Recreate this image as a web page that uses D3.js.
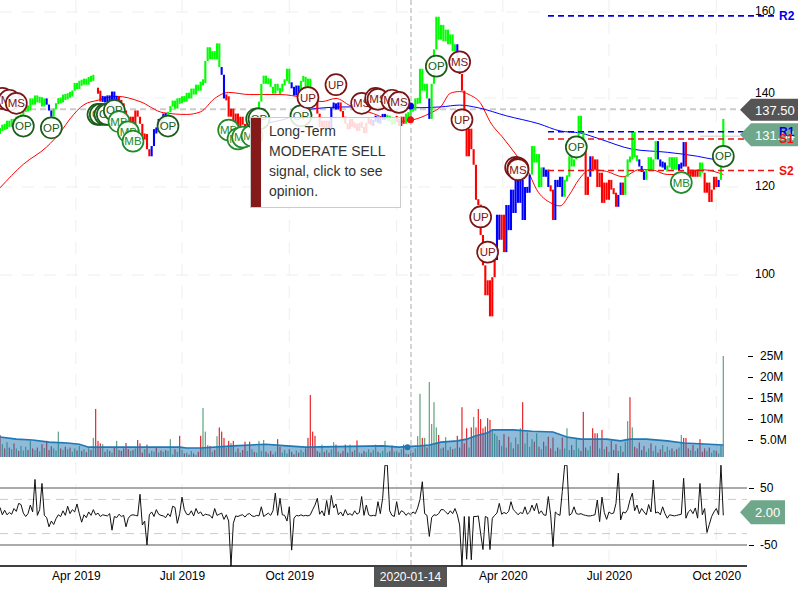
<!DOCTYPE html>
<html><head><meta charset="utf-8">
<script src="https://d3js.org/d3.v7.min.js"></script>
<style>html,body{margin:0;padding:0;background:#fff}svg{display:block}text{font-family:"Liberation Sans",Arial,sans-serif}</style>
</head><body><svg id="c" width="800" height="600"></svg>
<script>
const closePrice=[
132.6,134,133,134.9,133.5,135.3,134,135.8,134.4,136.3,
137,138.1,137.2,139.9,138.5,140.6,139,140.2,138.1,139.9,
138.5,137.2,135.8,137.6,138.7,139.9,139,140.8,139.7,141.1,
140.4,141.7,143.5,142.1,144,143.1,144.5,143.1,144.9,144,
145.4,null,141.7,139.2,140.4,139,140.6,139.2,141.5,139.2,
140.4,139,138.8,137.2,135.8,134.2,135.8,133,137.2,135.8,
134.2,130.8,131.9,128.5,126.9,129.2,133,132.4,135.3,134.2,
136.5,135.3,136.9,138.1,139.4,137.6,139.9,138.8,140.4,139.2,
141.2,139.9,142.2,140.8,143.1,141.7,143.8,143.5,148.6,151.8,
149,150.9,149,152.7,147.2,145.4,139.9,140.4,135.8,137.6,
133.5,136.5,133,135.8,134,133,134.9,134,136.5,135.3,
137.6,139.2,143.3,145.2,143.3,144.5,142.6,141,143.3,141.7,
141.5,143.3,144,146.8,143.3,142.6,140.6,142.9,141,144,
144.9,142.6,144.5,142.2,141,139.9,136.5,133.5,134.9,133,
134.9,133,137.8,138.8,137.4,139,137,135.8,134.2,133,
135.3,133.5,134.2,132.6,134.4,133.5,132.1,134.4,135.3,133.9,
134.9,135.8,134.4,135.3,136.2,135.3,135.8,134.9,134.2,135.3,
135.3,133.7,135.8,134.2,136.5,135.8,138.1,137.2,139.9,138.8,
146.8,141.7,143.3,139.9,135.3,143.3,151.3,158.9,153.6,157,
153.2,155.9,152.5,154.8,150.9,152.5,149,145.6,141.7,133,
126.9,133.1,128.5,125,117.1,116,109.1,102.2,95.4,98.8,
90.6,99.5,103.4,113.7,108,113.7,105.2,115.9,110.2,119.4,
114.1,121.6,116.4,121.6,112.5,120,118.7,122.8,129.2,125.5,
127.4,120,124.4,122.3,123.9,120,119.4,112.5,121.6,120,
122.3,117.8,121.6,122.3,126.9,124.6,126.2,128.5,136,132.4,
128.5,118.2,122.3,126.9,124,126.2,120,123.2,116.4,121,
117.1,121.6,119.4,118.7,115.5,118.2,121,118.2,122.3,126.2,
126.2,132.4,126.7,126.2,124.6,123.5,121.6,123.9,126.7,123.9,
126.2,130.3,126.2,124.6,125.5,123.9,124.4,126.7,123.9,126.7,
123.9,125,124.6,130.1,124.6,122.3,123.9,122.3,123.9,122.3,
125.5,123.2,118.7,121,116.6,119.4,122.3,120,121.6,129.2,
135.3];
const runEnd=[19,22,40,43,50,64,71,94,96,109,124,128,133,141,145,159,165,169,173,183,184,195,197,212,214,216,227,232,235,237,241,250,252,253,264,266,267,273,276,281,285,290,293,299,301,307,308,310];
const runCol="g b g r b r b g b r g b g r b r b g r g b g b r b r b g b r b g r b r b r g b g b g b r g r b g".split(" ");
const volume=[
6.2,4.0,3.0,4.5,3.2,2.8,4.2,3.0,2.4,3.6,
2.5,3.4,2.6,4.8,3.0,2.6,3.2,2.3,4.0,3.1,
4.8,2.6,3.5,3.0,2.5,7.0,3.0,2.6,3.4,2.8,
3.2,2.2,3.0,2.5,3.6,2.4,2.8,2.1,3.0,2.6,
5.5,12.4,4.8,4.2,4.0,2.2,2.8,2.4,2.0,3.2,
4.8,2.6,2.4,3.0,4.3,2.8,2.4,2.6,3.0,5.0,
4.2,2.0,2.8,3.9,1.8,2.4,2.2,3.2,2.0,2.5,
2.2,2.6,2.4,5.2,1.6,2.8,2.2,6.0,2.6,1.8,
2.0,1.5,2.4,1.8,1.4,2.2,6.0,12.6,7.0,3.8,
3.6,2.2,2.6,5.9,8.0,7.0,5.5,3.2,4.8,4.3,
4.8,2.2,3.0,2.0,2.6,4.6,2.4,4.6,2.8,2.2,
2.0,4.8,2.4,5.0,2.2,1.8,2.4,1.6,2.2,5.2,
3.4,2.0,2.6,1.8,2.8,2.2,1.6,2.5,2.0,2.7,
2.1,3.0,5.5,15.7,7.0,6.0,2.4,2.0,3.9,2.2,
2.6,2.0,2.8,4.5,3.9,2.2,1.8,2.4,3.9,2.0,
3.9,2.2,2.6,4.9,2.0,1.8,2.4,2.1,2.8,2.0,
2.6,3.9,2.2,1.9,2.4,4.8,2.0,2.3,3.7,2.2,
2.4,2.0,2.8,3.9,1.8,1.6,2.6,2.0,3.0,5.9,
16,5.5,5.5,3.2,18.8,8.8,14,8,6.2,3.0,
3.2,5.7,2.6,3.4,2.8,3.0,6.0,3.2,12.8,4.2,
7.8,3.2,8.0,10.5,8,12.4,10,7.8,8.2,10.2,
9.8,7.2,6.5,6.0,5.0,3.6,6.4,3.2,5.8,4.4,
3.0,5.6,4.0,7.8,14,4.2,6.8,3.4,5.2,4.6,
6.6,3.4,2.8,4.6,3.6,5.8,3.0,5.6,2.4,3.2,
2.8,5.6,3.0,7.8,2.6,3.8,2.6,5.4,3.0,2.4,
11.7,3.2,2.6,3.6,7.8,6.6,6.6,3.0,7.4,2.8,
3.4,2.2,4.8,2.6,4.0,2.4,3.6,2.2,4.6,9.5,
15.2,8.0,3.4,3.0,4.4,2.6,3.6,2.2,3.0,4.2,
2.4,3.6,2.0,2.8,3.8,2.2,3.4,2.6,3.0,2.4,
2.8,3.2,6.2,5.5,5.5,3.0,2.6,3.8,2.4,3.0,
5.2,2.2,3.0,2.4,3.2,2.0,2.6,2.4,1.8,3.6,
25];
const volGreen=[25,40,73,87,88,93,111,113,143,161,165,179,180,184,185,186,187,203,223,226,243,269,271,292,310];
const volRed=[0,41,42,86,94,95,96,119,132,133,134,135,196,198,200,202,205,206,207,208,209,210,224,236,241,250,254,255,256,258,270,293,294,300];
const avgIdx=[0,7,14,21,29,34,38,43,77,80,86,100,114,123,131,164,171,180,184,189,196,200,204,209,211,220,228,237,243,249,260,266,270,277,286,293,304,310];
const avgVol=[5.7,5.2,5.0,4.5,4.3,4.0,3.3,3.3,3.3,3.1,3.1,3.6,4.0,3.6,3.3,3.6,3.3,3.6,3.8,4.5,4.8,5.2,6.0,6.7,7.4,7.4,7.1,6.9,5.7,5.2,5.2,4.8,5.2,5.2,4.8,4.3,4.0,3.8];
const cci=[
16,3,11,3,7,4,14,9,23,21,
6,0,5,20,8,65,2,12,58,2,
-2,-18,-8,-14,-4,3,0,10,2,18,
5,12,8,22,5,-10,3,-2,8,2,
12,3,6,0,3,2,1,5,-24,0,
-2,4,0,2,-18,-3,2,3,2,1,
39,-15,-8,-50,3,8,0,12,4,2,
1,-2,5,0,18,16,-12,5,34,12,
4,3,10,1,14,5,8,1,4,3,
2,-3,14,2,4,6,-5,3,-8,-87,
-12,1,0,2,3,-1,4,5,1,0,
2,1,17,0,3,6,2,10,41,2,
32,3,2,-8,17,-59,-3,2,1,3,
1,2,1,3,12,20,32,4,10,1,
28,3,37,15,22,3,8,1,12,3,
5,2,10,4,7,35,2,20,3,1,
2,1,26,5,32,90,90,10,2,0,
26,3,10,8,2,6,3,8,5,15,
30,61,5,2,-35,-2,3,2,5,12,
12,8,4,10,5,14,3,-15,-87,0,
-75,0,-76,0,0,1,-30,-58,0,-2,
-58,-3,2,6,23,4,7,5,9,26,
12,8,3,7,5,17,4,8,20,10,
23,5,10,3,2,35,3,-53,8,4,
2,44,90,90,2,5,17,5,4,5,
3,2,1,1,2,3,29,-9,34,7,
-5,8,5,6,23,76,-6,8,6,12,
29,41,10,20,5,14,8,3,21,8,
64,6,8,3,17,5,-3,3,2,1,
2,3,4,67,-3,8,12,5,15,-3,
58,3,14,-28,-14,0,8,14,3,90,
2];
const redIdx=[0,10,20,26,30,36,42,50,60,70,80,86,92,98,107,120,130,138,144,150,160,170,177,184,189,193,197,201,206,210,216,222,226,230,236,240,244,248,253,260,267,274,279,286,293,300,306,310];
const redMA=[119.8,125.1,129,132.4,135.3,138.5,139.5,140.4,139.2,136.7,136.3,136.9,139.9,141.3,140.8,140.8,140.1,139.2,139.9,138.3,136.5,134.7,135.1,136.5,138.1,141.1,141.5,140.8,138.8,134.7,130.8,126.7,123.9,119.4,116.4,115.7,118.2,121.6,123.9,123.5,122.3,123.9,123.9,122.8,122.8,123.9,123.5,122.8];
const blueIdx=[107,115,125,130,135,142,150,165,177,189,197,205,217,231,240,249,257,271,286,299,306,310];
const blueMA=[133.5,134.4,135.8,137.2,137.6,137.9,138,137.9,137.8,138,138.4,137.8,136,134.2,132.6,132.1,130.8,128.5,127.8,126.9,126.2,126];
const sigLabel=["MS","MS","MS","OP","OP","OP","OP","OP","OP","OP","MB","MB","MB","OP","MB","MB","MB","MB","OP","OP","OP","UP","UP","MS","MS","MS","MS","MS","OP","MS","UP","UP","UP","MS","MS","MS","OP","MB","OP"];
const sigIdx=[1,4,7,10,22,42,43,45,46,49,51,55,57,72,98,102,104,108,110,111,129,132,144,155,161,162,168,171,187,197,198,206,209,221,222,222,247,292,310];
const sigPrice=[139.9,139.5,138.8,133.7,133.3,136.3,136.3,136.3,136.3,137.2,134.7,132.4,130.3,133.7,132.8,130.8,131.2,131.5,135.3,135.3,136,140.1,143.1,138.8,139.9,139.7,139.5,139,147.4,148.4,135.1,113.2,105.2,124.4,124.2,123.9,129,121,126.9];
const pivotNames=["R2","R1","S1","S2"];
const pivotVals=[159.1,132.4,130.8,123.7];
const priceTicks=[160,140,120,100];
const volTicks=[5,10,15,20,25];
const cciTicks=[50,-50];
const cciGuides=[30,-30];
const quarterDates=["2019-04-01","2019-07-01","2019-10-01","2020-01-01","2020-04-01","2020-07-01","2020-10-01"];
const lastPrice=137.5, midPrice=131.54, lastCci=2;
const tipLines=["Long-Term","MODERATE SELL","signal, click to see","opinion."];
const crossDate="2020-01-14";

const svg=d3.select("#c");
const W=747;
const day0=new Date(2019,0,26);
const dateOf=i=>d3.timeDay.offset(day0,i*2);
const x=d3.scaleTime().domain([day0,dateOf(310)]).range([0,723.3]);
const xi=i=>x(dateOf(i));
const yP=d3.scaleLinear().domain([160,140,120,100]).range([12,98,187,275]);
const yV=d3.scaleLinear().domain([0,25]).range([461,356]);
const yC=d3.scaleLinear().domain([50,-50]).range([488,545]);
const colors={g:"#00ff00",b:"#0000ff",r:"#ff0000"};
const colorAt=i=>runCol[runEnd.findIndex(e=>i<=e)];
const defs=svg.append("defs");
defs.append("clipPath").attr("id","cv").append("rect").attr("x",0).attr("y",340).attr("width",W).attr("height",117);
defs.append("clipPath").attr("id","cc").append("rect").attr("x",0).attr("y",465).attr("width",W).attr("height",101);
const qDates=quarterDates.map(d=>d3.timeParse("%Y-%m-%d")(d));

// grid
const grid=svg.append("g").attr("fill","none").attr("stroke","#eee").attr("stroke-dasharray","12 10");
grid.selectAll(".v").data(qDates).join("line").attr("x1",d=>x(d)).attr("x2",d=>x(d)).attr("y1",0).attr("y2",566);
grid.selectAll(".h").data(priceTicks).join("line").attr("x1",0).attr("x2",W).attr("y1",d=>yP(d)).attr("y2",d=>yP(d));

// last price level
svg.append("line").attr("x1",0).attr("x2",740).attr("y1",yP(lastPrice)).attr("y2",yP(lastPrice)).attr("stroke","#ccc").attr("stroke-width",2).attr("stroke-dasharray","6 4");
svg.append("line").attr("x1",700).attr("x2",740).attr("y1",yP(midPrice)+.5).attr("y2",yP(midPrice)+.5).attr("stroke","#ccc");

// volume
const volCol=i=>{if(volGreen.includes(i))return "#5fa37f";if(volRed.includes(i))return "#e8262a";return (closePrice[i]!=null&&closePrice[i-1]!=null&&closePrice[i]>=closePrice[i-1])?"#5fa37f":"#e8262a";};
const gv=svg.append("g").attr("clip-path","url(#cv)");
gv.selectAll("rect").data(volume).join("rect").attr("x",(d,i)=>xi(i)-.6).attr("width",1.2).attr("y",d=>yV(d)).attr("height",d=>yV(0)-yV(d)).attr("fill",(d,i)=>volCol(i));
gv.append("path").datum(avgVol).attr("fill","rgba(31,119,180,.5)").attr("stroke","none").attr("d",d3.area().x((d,i)=>xi(avgIdx[i])).y0(yV(0)).y1(d=>yV(d)));
gv.append("path").datum(avgVol).attr("fill","none").attr("stroke","#1f77b4").attr("stroke-width",1.6).attr("d",d3.line().x((d,i)=>xi(avgIdx[i])).y(d=>yV(d)));

// cci
svg.append("g").selectAll("line").data(cciTicks).join("line").attr("x1",0).attr("x2",W).attr("y1",d=>yC(d)).attr("y2",d=>yC(d)).attr("stroke","#aaa").attr("stroke-width",2);
svg.append("g").selectAll("line").data(cciGuides).join("line").attr("x1",0).attr("x2",W).attr("y1",d=>yC(d)).attr("y2",d=>yC(d)).attr("stroke","#ccc").attr("stroke-dasharray","8 6");
svg.append("g").attr("clip-path","url(#cc)").append("path").datum(cci).attr("fill","none").attr("stroke","#111").attr("stroke-width",1).attr("d",d3.line().x((d,i)=>xi(i)).y(d=>yC(d)));

// price bars
const maLine=(vals,idx)=>d3.line().x((d,i)=>xi(idx[i])).y(d=>yP(d)).curve(d3.curveMonotoneX)(vals);
svg.append("path").attr("fill","none").attr("stroke","#f00").attr("stroke-width",1).attr("d",maLine(redMA,redIdx));
svg.append("path").attr("fill","none").attr("stroke","#00f").attr("stroke-width",1).attr("d",maLine(blueMA,blueIdx));
const barSpan=(d,i)=>{const p=closePrice[i-1]==null?d:closePrice[i-1];const a=yP(p),b=yP(d);const lo=Math.min(a,b),hi=Math.max(a,b);return hi-lo>=6?[lo,hi]:[(lo+hi)/2-3,(lo+hi)/2+3];};
svg.append("g").selectAll("rect").data(closePrice).join("rect")
 .attr("x",(d,i)=>xi(i)-1.05).attr("width",2.1)
 .attr("y",(d,i)=>d==null?0:barSpan(d,i)[0])
 .attr("height",(d,i)=>{if(d==null)return 0;const s=barSpan(d,i);return s[1]-s[0];})
 .attr("fill",(d,i)=>colors[colorAt(i)]);

// pivots
const pivCol=n=>n[0]=="R"?"#0000e6":"#f01010";
svg.append("g").selectAll("line").data(pivotVals).join("line").attr("x1",548).attr("x2",777).attr("y1",d=>yP(d)).attr("y2",d=>yP(d)).attr("stroke",(d,i)=>pivCol(pivotNames[i])).attr("stroke-width",1.6).attr("stroke-dasharray","6 4");

// crosshair
svg.append("line").attr("x1",411).attr("x2",411).attr("y1",0).attr("y2",566).attr("stroke","#aaa").attr("stroke-dasharray","5 3");
const ci=175.5;
svg.append("circle").attr("cx",xi(ci)+1).attr("cy",yP(138.2)).attr("r",3.5).attr("fill","#0000e6");
svg.append("circle").attr("cx",xi(ci)+1).attr("cy",yP(135.1)).attr("r",3.5).attr("fill","#f01010");
svg.append("circle").attr("cx",xi(ci)-2).attr("cy",yV(3.3)).attr("r",3).attr("fill","#1f77b4");

// axis
const tf=d3.timeFormat("%b %Y");
const ax=svg.append("g").attr("transform","translate(0,566)").call(d3.axisBottom(x).tickValues(qDates.filter(d=>d.getMonth()!=0)).tickFormat(tf).tickSize(0).tickPadding(5));
ax.select(".domain").remove();
ax.selectAll("text").attr("font-size",12).attr("fill","#000").style("font-family",'"Liberation Sans"');
svg.append("line").attr("x1",0).attr("x2",W).attr("y1",566).attr("y2",566).attr("stroke","#000").attr("stroke-width",1.5);

const ap=svg.append("g").attr("transform","translate(755,0)").call(d3.axisRight(yP).tickValues(priceTicks).tickSize(0).tickPadding(0));
ap.select(".domain").remove();
ap.selectAll("text").attr("font-size",12).attr("fill","#000").attr("dy",d=>d==140?"-0.12em":"0.24em").style("font-family",'"Liberation Sans"');
const av=svg.append("g").attr("transform","translate(748,0)").call(d3.axisRight(yV).tickValues(volTicks).tickFormat(d=>d==5?"5.0M":d+"M").tickSize(5).tickPadding(7));
av.select(".domain").remove();
av.selectAll("text").attr("font-size",12).attr("fill","#000").style("font-family",'"Liberation Sans"');
const ac=svg.append("g").attr("transform","translate(749,0)").call(d3.axisRight(yC).tickValues(cciTicks).tickFormat(d=>String(d)).tickSize(5).tickPadding(6));
ac.select(".domain").remove();
ac.selectAll("text").attr("font-size",12).attr("fill","#000").style("font-family",'"Liberation Sans"');

// price tags
function tag(yc,x1,h,fill,label,op){
  svg.append("path").attr("d",`M740 ${yc}L751 ${yc-h}H${x1}V${yc+h}H751Z`).attr("fill",fill).attr("fill-opacity",op);
  svg.append("text").attr("x",755).attr("y",yc+5).attr("font-size",13).attr("fill","#fff").text(label);
}
tag(yP(lastPrice)+.5,798,11,"#555",lastPrice.toFixed(2),1);
tag(yP(midPrice)-1,798,11.5,"#6fa78a",midPrice.toFixed(2),1);
tag(yC(lastCci)-3,785,12,"#6fa78a",lastCci.toFixed(2),1);
svg.append("g").selectAll("text").data(pivotNames).join("text").attr("x",779).attr("y",(d,i)=>yP(pivotVals[i])+4).attr("font-size",12).attr("font-weight","bold").attr("fill",d=>pivCol(d)).text(d=>d);

// signals
const sigCol={OP:"#1a5c1a",MB:"#1e8a2a",MS:"#7a1515",UP:"#7a1515"};
const gs=svg.append("g");
sigLabel.forEach((l,i)=>{
  const g=gs.append("g").attr("transform",`translate(${xi(sigIdx[i])},${yP(sigPrice[i])})`);
  g.append("circle").attr("r",10.5).attr("fill","rgba(255,255,255,.92)").attr("stroke",sigCol[l]).attr("stroke-width",1.7);
  g.append("text").attr("text-anchor","middle").attr("y",4).attr("font-size",11.5).attr("fill",sigCol[l]).text(l);
});

// tooltip
svg.append("rect").attr("x",250.5).attr("y",117.5).attr("width",150).attr("height",90).attr("fill","rgba(255,255,255,.85)").attr("stroke","#ccc");
svg.append("rect").attr("x",251).attr("y",118).attr("width",10).attr("height",89).attr("fill","#841a1a");
svg.append("g").selectAll("text").data(tipLines).join("text").attr("x",269).attr("y",(d,i)=>136+i*20).attr("font-size",14).attr("fill","#333").text(d=>d);

// date tag
svg.append("rect").attr("x",374).attr("y",567).attr("width",73).attr("height",20).attr("fill","#555");
svg.append("text").attr("x",410.5).attr("y",581).attr("text-anchor","middle").attr("font-size",12).attr("fill","#fff").text(crossDate);
</script></body></html>
